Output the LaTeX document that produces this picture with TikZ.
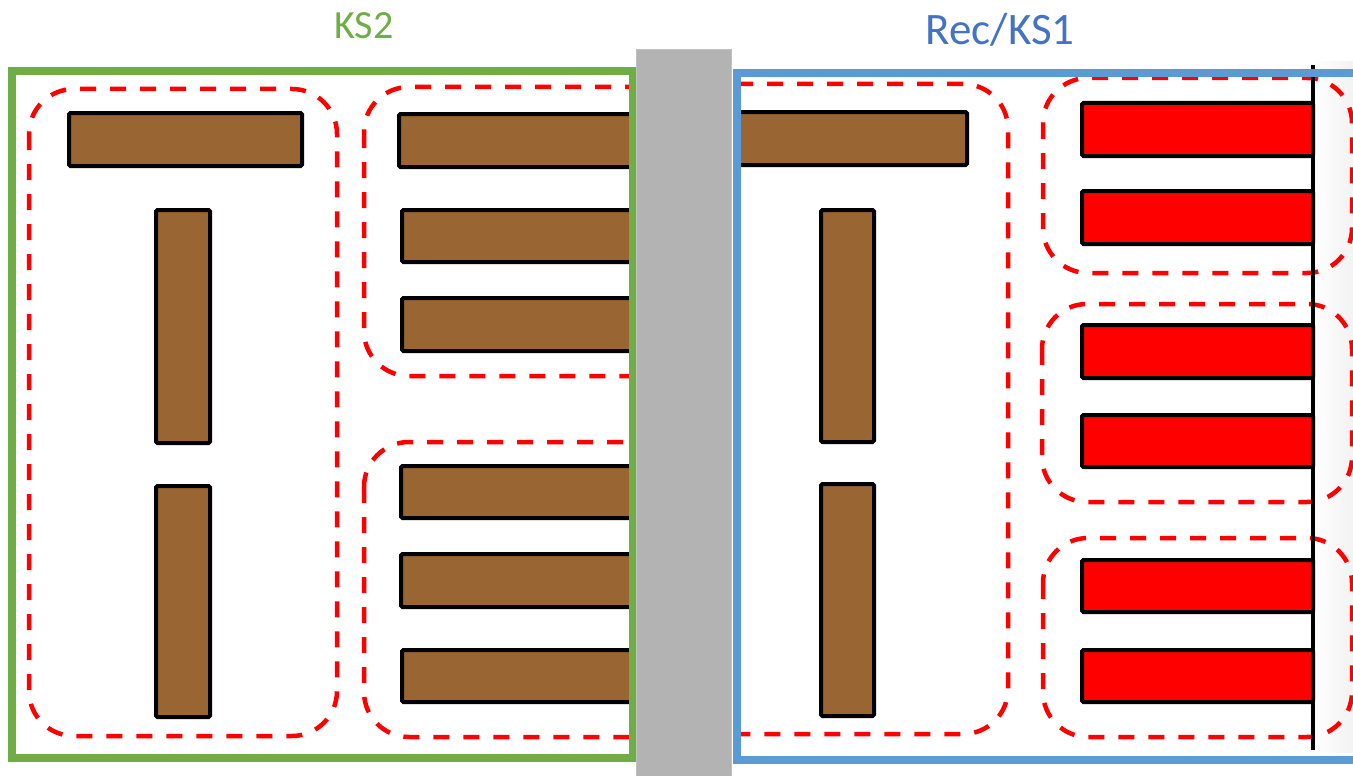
\documentclass[tikz,border=0pt]{standalone}
\usepackage{fontspec}
\setmainfont{Carlito}
\definecolor{wood}{HTML}{996633}
\definecolor{ksgreen}{HTML}{70AD47}
\definecolor{ksblue}{HTML}{5B9BD5}
\definecolor{recblue}{HTML}{4472C4}
\definecolor{divider}{HTML}{B3B3B3}
\begin{document}
\begin{tikzpicture}[x=1pt,y=-1pt,
  woodbar/.style={draw=black,line width=4pt,fill=wood,rounded corners=1.5pt},
  redbar/.style={draw=black,line width=4pt,fill=red,rounded corners=1.5pt},
  zone/.style={draw=red,line width=4.5pt,dash pattern=on 16pt off 14pt,rounded corners=45pt},
  frame/.style={line width=8pt},
  title/.style={anchor=base}]
\useasboundingbox (0,0) rectangle (1353,776);
% ---------- left picture (KS2) ----------
\begin{scope}
  \clip (0,0) rectangle (629,776);
  \draw[zone] (29,89) rectangle (337,736);
  \draw[zone] (364,87) rectangle (700,376);
  \draw[zone] (364,442) rectangle (700,737);
  \draw[woodbar] (69,113) rectangle (302,166);
  \draw[woodbar] (156,210) rectangle (210,443);
  \draw[woodbar] (156,486) rectangle (210,717);
  \draw[woodbar] (399,114) rectangle (680,167);
  \draw[woodbar] (402,210) rectangle (680,262);
  \draw[woodbar] (402,298) rectangle (680,351);
  \draw[woodbar] (401,466) rectangle (680,518);
  \draw[woodbar] (401,554) rectangle (680,607);
  \draw[woodbar] (402,650) rectangle (680,702);
\end{scope}
\draw[frame,draw=ksgreen] (12,71) rectangle (632.5,758);
% ---------- right picture (Rec/KS1) ----------
\begin{scope}
  \clip (740,0) rectangle (1353,776);
  \shade[left color=white,right color=gray!10] (1313,62) rectangle (1353,752);
  \draw[zone] (690,84) rectangle (1008,734);
  \draw[zone] (1043,78) rectangle (1352,273);
  \draw[zone] (1042,304) rectangle (1352,502);
  \draw[zone] (1043,538) rectangle (1352,737);
  \draw[woodbar] (700,112) rectangle (967,165);
  \draw[woodbar] (821,210) rectangle (874,442);
  \draw[woodbar] (821,484) rectangle (874,716);
  \draw[redbar] (1082,103) rectangle (1313,156);
  \draw[redbar] (1082,191) rectangle (1313,244);
  \draw[redbar] (1082,325) rectangle (1313,378);
  \draw[redbar] (1082,415) rectangle (1313,467);
  \draw[redbar] (1082,560) rectangle (1313,612);
  \draw[redbar] (1082,650) rectangle (1313,702);
  \draw[line width=4pt] (1313,65) -- (1313,750);
\end{scope}
\draw[frame,draw=ksblue] (736.5,73) rectangle (1400,759.5);
% ---------- divider ----------
\fill[divider,draw=divider!80!white,line width=1pt] (636.5,49.5) rectangle (731.5,780);
% ---------- titles ----------
\node[title,text=ksgreen,font=\fontsize{40}{48}\selectfont] (ks2) at (364,39) {KS2};
\node[title,text=recblue,font=\fontsize{45}{54}\selectfont] (rec) at (1000,45) {Rec/KS1};
\end{tikzpicture}
\end{document}
